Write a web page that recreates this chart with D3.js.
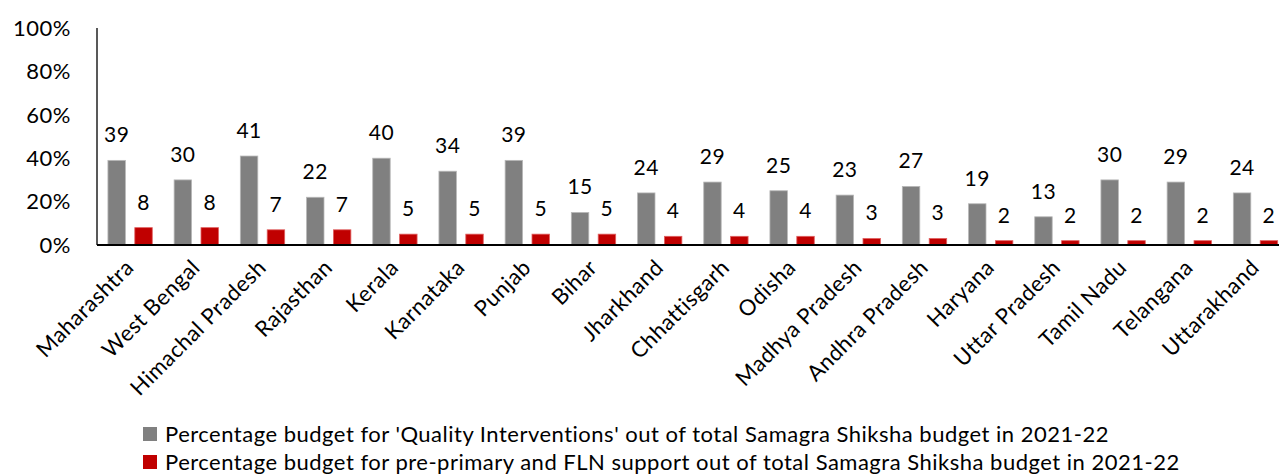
<!DOCTYPE html>
<html>
<head>
<meta charset="utf-8">
<script src="https://cdn.jsdelivr.net/npm/d3@7"></script>
<style>
  body { margin: 0; background: #fff; }
  svg text { font-family: Lato, "Open Sans", sans-serif; fill: #000; letter-spacing: 0.5px; }
</style>
</head>
<body>
<div id="chart"></div>
<script>
// states, in the order they are plotted
const states = ["Maharashtra", "West Bengal", "Himachal Pradesh", "Rajasthan", "Kerala", "Karnataka",
    "Punjab", "Bihar", "Jharkhand", "Chhattisgarh", "Odisha", "Madhya Pradesh", "Andhra Pradesh",
    "Haryana", "Uttar Pradesh", "Tamil Nadu", "Telangana", "Uttarakhand"];

// % of Samagra Shiksha budget for 'Quality Interventions'
const quality = [39, 30, 41, 22, 40, 34, 39, 15, 24, 29, 25, 23, 27, 19, 13, 30, 29, 24];
// % for pre-primary and FLN support
const fln = [8, 8, 7, 7, 5, 5, 5, 5, 4, 4, 4, 3, 3, 2, 2, 2, 2, 2];

const yTicks = [0, 20, 40, 60, 80, 100];

const seriesNames = [
    "Percentage budget for 'Quality Interventions' out of total Samagra Shiksha budget in 2021-22",
    "Percentage budget for pre-primary and FLN support out of total Samagra Shiksha budget in 2021-22"
];
const colors = ["#808080", "#C00000"];

const width = 1279, height = 475;
const margin = {top: 28, left: 97, bottom: 230};

const svg = d3.select("#chart").append("svg")
    .attr("width", width)
    .attr("height", height);

const x0 = d3.scaleBand()
    .domain(states)
    .range([margin.left, margin.left + 66.2 * states.length])
    .paddingInner(0.33)
    .paddingOuter(0.165);

const x1 = d3.scaleBand()
    .domain([0, 1])
    .range([0, x0.bandwidth()])
    .paddingInner(0.35);

const y = d3.scaleLinear()
    .domain([0, 100])
    .range([height - margin.bottom, margin.top]);

const rows = states.map((s, i) => ({state: s, vals: [quality[i], fln[i]]}));

// bars
const groups = svg.selectAll(".grp")
    .data(rows)
    .enter().append("g")
    .attr("class", "grp")
    .attr("transform", d => `translate(${x0(d.state)},0)`);

groups.selectAll("rect")
    .data(d => d.vals.map((v, k) => ({v, k})))
    .enter().append("rect")
    .attr("x", d => x1(d.k))
    .attr("width", x1.bandwidth())
    .attr("y", d => y(d.v))
    .attr("height", d => y(0) - y(d.v))
    .attr("fill", d => colors[d.k])
    .attr("stroke", d => d.k === 0 ? "#b8b8b8" : "#e06060")
    .attr("stroke-width", 0.8);

// value labels
groups.selectAll(".val")
    .data(d => d.vals.map((v, k) => ({v, k})))
    .enter().append("text")
    .attr("class", "val")
    .attr("x", d => x1(d.k) + x1.bandwidth() / 2)
    .attr("y", d => y(d.v) - 18)
    .attr("text-anchor", "middle")
    .style("font-size", "21px")
    .text(d => d.v);

// y axis
svg.append("line")
    .attr("x1", margin.left).attr("x2", margin.left)
    .attr("y1", y(100)).attr("y2", y(0))
    .attr("stroke", "#222").attr("stroke-width", 1.5);

svg.selectAll(".ytick")
    .data(yTicks)
    .enter().append("text")
    .attr("class", "ytick")
    .attr("x", 71)
    .attr("y", d => y(d))
    .attr("dy", "0.35em")
    .attr("text-anchor", "end")
    .style("font-size", "22px")
    .text(d => d + "%");

// x axis baseline
svg.append("line")
    .attr("x1", margin.left).attr("x2", width)
    .attr("y1", y(0)).attr("y2", y(0))
    .attr("stroke", "#000").attr("stroke-width", 2);

// rotated state names
svg.selectAll(".xlab")
    .data(states)
    .enter().append("text")
    .attr("class", "xlab")
    .attr("text-anchor", "end")
    .attr("transform", d => `translate(${x0(d) + x0.bandwidth() / 2 + 5},${y(0) + 24}) rotate(-45)`)
    .style("font-size", "22px")
    .text(d => d);

// legend
const legend = svg.selectAll(".leg")
    .data(seriesNames)
    .enter().append("g")
    .attr("class", "leg")
    .attr("transform", (d, i) => `translate(143,${427 + i * 28})`);

legend.append("rect")
    .attr("width", 14).attr("height", 14)
    .attr("fill", (d, i) => colors[i]);

legend.append("text")
    .attr("x", 22)
    .attr("y", 7)
    .attr("dy", "0.35em")
    .style("font-size", "22px")
    .text(d => d);
</script>
</body>
</html>
